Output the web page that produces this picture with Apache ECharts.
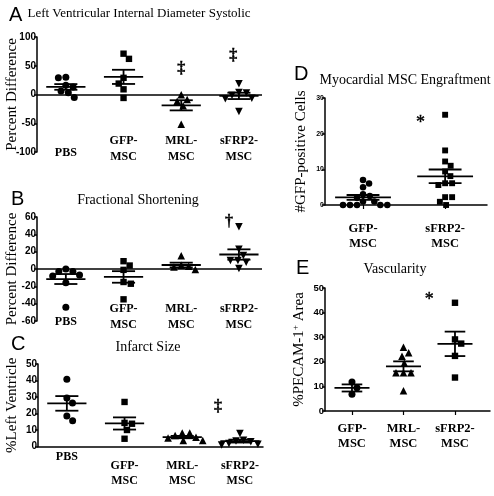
<!DOCTYPE html>
<html><head><meta charset="utf-8">
<script src="https://cdn.jsdelivr.net/npm/echarts@6/dist/echarts.min.js"></script>
<style>html,body{margin:0;padding:0;background:#fff}#c{width:494px;height:496px}</style>
</head><body><div id="c"></div>
<script>
// ---------- data ----------
const catsABC = ['PBS', 'GFP-\nMSC', 'MRL-\nMSC', 'sFRP2-\nMSC'];
const catsD = ['GFP-\nMSC', 'sFRP2-\nMSC'];
const catsE = ['GFP-\nMSC', 'MRL-\nMSC', 'sFRP2-\nMSC'];

const lvidsPBS = [30, 29, 16, 13, 6, 3, -5];
const lvidsGFP = [71, 62, 29, 19, 9, -6];
const lvidsMRL = [-1, -9, -12, -20, -52];
const lvidsSFRP2 = [19, 4, 3, -1, -6, -7, -29];

const fsPBS = [0, -3, -3, -7, -8, -16, -44];
const fsGFP = [9, 4, -1, -15, -17, -35];
const fsMRL = [15, 4, 3, 2, -1];
const fsSFRP2 = [49, 23, 16, 10, 10, 8, 1];

const infPBS = [40.7, 29.4, 26.4, 18.5, 15.6];
const infGFP = [27, 14.3, 13.8, 10, 4.7];
const infMRL = [8, 8, 6.5, 5.5, 5, 3.5, 3.5];
const infSFRP2 = [8, 4, 3.5, 3, 2, 1.5, 1];

const engGFP = [7, 6, 5, 3, 2.5, 2, 1, 1, 0, 0, 0, 0, 0];
const engSFRP2 = [25.3, 15.3, 12.2, 11, 9.4, 8.1, 6.1, 6.1, 5.6, 2.2, 2.2, 0.9, 0];

const vasGFP = [11.8, 9.5, 6.8];
const vasMRL = [25.8, 23.6, 22.2, 19.3, 15.4, 15.4, 15.4, 8.1];
const vasSFRP2 = [44, 29.1, 27.4, 22.4, 13.6];

const yTicksA = [-100, -50, 0, 50, 100];
const yTicksB = [-60, -40, -20, 0, 20, 40, 60];
const yTicksC = [0, 10, 20, 30, 40, 50];
const yTicksD = [0, 10, 20, 30];
const yTicksE = [0, 10, 20, 30, 40, 50];

// significance marks: [category position, value, symbol]
const marksA = [[3, 45, '‡'], [3.9, 68, '‡']];
const marksB = [[3.83, 54, '†']];
const marksC = [[3.62, 24, '‡']];
const marksD = [[1.7, 23, '*']];
const marksE = [[2.5, 45, '*']];

// ---------- helpers ----------
const SERIF = 'Liberation Serif', SANS = 'Liberation Sans';
function stats(v) {
  const n = v.length, m = v.reduce((a, b) => a + b, 0) / n;
  const sd = Math.sqrt(v.reduce((a, b) => a + (b - m) * (b - m), 0) / (n - 1));
  return { m, sem: sd / Math.sqrt(n) };
}
function swarm(ys, cx, d) {
  const order = ys.map((y, i) => i).sort((a, b) => ys[a] - ys[b]);
  const placed = [], xs = new Array(ys.length);
  order.forEach(i => {
    const y = ys[i], ints = [];
    placed.forEach(p => {
      const dy = Math.abs(p.y - y);
      if (dy < d) { const w = Math.sqrt(d * d - dy * dy); ints.push([p.x - w, p.x + w]); }
    });
    const cands = [cx];
    ints.forEach(t => cands.push(t[0], t[1]));
    cands.sort((a, b) => Math.abs(a - cx) - Math.abs(b - cx) || b - a);
    let x = cx;
    for (const c of cands) {
      if (ints.every(t => c <= t[0] + 1e-6 || c >= t[1] - 1e-6)) { x = c; break; }
    }
    xs[i] = x; placed.push({ x, y });
  });
  return xs;
}
function mark(shape, x, y, s) {
  const h = s / 2, st = { fill: '#000' };
  if (shape === 'circle') return { type: 'circle', shape: { cx: x, cy: y, r: h }, style: st };
  if (shape === 'square') return { type: 'rect', shape: { x: x - h + 0.3, y: y - h + 0.3, width: s - 0.6, height: s - 0.6 }, style: st };
  if (shape === 'triangle') return { type: 'polygon', shape: { points: [[x, y - h - 0.5], [x - h - 0.3, y + h], [x + h + 0.3, y + h]] }, style: st };
  return { type: 'polygon', shape: { points: [[x - h - 0.3, y - h], [x + h + 0.3, y - h], [x, y + h + 0.5]] }, style: st };
}
function groupRenderer(groups, shapes, size) {
  return function (params, api) {
    const gi = params.dataIndex, vals = groups[gi], xv = api.value(0);
    const unit = api.size([1, 0])[0];
    const cx = api.coord([xv, 0])[0];
    const ys = vals.map(v => api.coord([xv, v])[1]);
    const xs = swarm(ys, cx, size + 0.5);
    const ch = [];
    vals.forEach((v, i) => ch.push(mark(shapes[gi], xs[i], ys[i], size)));
    const s = stats(vals);
    const ym = api.coord([xv, s.m])[1], yt = api.coord([xv, s.m + s.sem])[1], yb = api.coord([xv, s.m - s.sem])[1];
    const mw = unit * 0.34, cw = unit * 0.2;
    const ls = { stroke: '#000', lineWidth: 1.8 };
    ch.push({ type: 'line', shape: { x1: cx - mw, y1: ym, x2: cx + mw, y2: ym }, style: ls });
    ch.push({ type: 'line', shape: { x1: cx - cw, y1: yt, x2: cx + cw, y2: yt }, style: ls });
    ch.push({ type: 'line', shape: { x1: cx - cw, y1: yb, x2: cx + cw, y2: yb }, style: ls });
    ch.push({ type: 'line', shape: { x1: cx, y1: yt, x2: cx, y2: yb }, style: ls });
    return { type: 'group', children: ch };
  };
}
function markRenderer(list, font) {
  return function (params, api) {
    const p = api.coord([api.value(0), api.value(1)]);
    return { type: 'text', x: p[0], y: p[1], style: { text: list[params.dataIndex][2], font: font, fill: '#000', stroke: '#000', lineWidth: 0.4, align: 'center', verticalAlign: 'middle' } };
  };
}

const panels = [
  { groups: [lvidsPBS, lvidsGFP, lvidsMRL, lvidsSFRP2], shapes: ['circle', 'square', 'triangle', 'invtriangle'], cats: catsABC, ticks: yTicksA, marks: marksA, markFont: 'bold 16px ' + SERIF,
    grid: { left: 37, top: 37, width: 225, height: 115 }, xmin: 0.5, xmax: 4.4, xLine: false, zero: true, xTick: false, size: 7,
    name: 'Percent Difference', nameGap: 17, tickFont: 10, labMargin: -3, labVA: 'middle', labSize: 12, singlePad: [8, 0, 0, 0] },
  { groups: [fsPBS, fsGFP, fsMRL, fsSFRP2], shapes: ['circle', 'square', 'triangle', 'invtriangle'], cats: catsABC, ticks: yTicksB, marks: marksB, markFont: 'bold 16px ' + SERIF,
    grid: { left: 37, top: 217, width: 225, height: 104 }, xmin: 0.5, xmax: 4.4, xLine: false, zero: true, xTick: false, size: 7,
    name: 'Percent Difference', nameGap: 17, tickFont: 10, labMargin: -4, labVA: 'middle', labSize: 12, singlePad: [10, 0, 0, 0] },
  { groups: [infPBS, infGFP, infMRL, infSFRP2], shapes: ['circle', 'square', 'triangle', 'invtriangle'], cats: catsABC, ticks: yTicksC, marks: marksC, markFont: 'bold 16px ' + SERIF,
    grid: { left: 38, top: 364, width: 225, height: 89 }, xmin: 0.5, xmax: 4.4, xLine: true, zero: false, xTick: false, size: 7,
    name: '%Left Ventricle', nameGap: 18, tickFont: 10, labMargin: 27, labVA: 'middle', labSize: 12, singlePad: [0, 0, 33, 0] },
  { groups: [engGFP, engSFRP2], shapes: ['circle', 'square'], cats: catsD, ticks: yTicksD, marks: marksD, markFont: '18px ' + SERIF,
    grid: { left: 325, top: 98, width: 162, height: 107 }, xmin: 0.537, xmax: 2.51, xLine: true, zero: false, xTick: true, size: 6.5,
    name: '#GFP-positive Cells', nameGap: 16, tickFont: 7, labMargin: 16, labVA: 'top', labSize: 12.5, singlePad: [0, 0, 0, 0] },
  { groups: [vasGFP, vasMRL, vasSFRP2], shapes: ['circle', 'triangle', 'square'], cats: catsE, ticks: yTicksE, marks: marksE, markFont: '18px ' + SERIF,
    grid: { left: 325, top: 288, width: 165, height: 123 }, xmin: 0.476, xmax: 3.68, xLine: true, zero: false, xTick: true, size: 7,
    name: '%PECAM-1{sup|+} Area', nameGap: 17, tickFont: 9.5, labMargin: 10, labVA: 'top', labSize: 12.5, singlePad: [0, 0, 0, 0] }
];

const option = { animation: false, backgroundColor: '#fff', grid: [], xAxis: [], yAxis: [], series: [], graphic: [] };
panels.forEach((p, i) => {
  option.grid.push(Object.assign({ containLabel: false }, p.grid));
  const custom = p.cats.map((c, k) => k + 1);
  const labFont = { fontFamily: SERIF, fontWeight: 'bold', fontSize: p.labSize, color: '#000', lineHeight: 15.5 };
  option.xAxis.push({
    gridIndex: i, type: 'value', min: p.xmin, max: p.xmax,
    axisLine: { show: p.xLine, onZero: false, lineStyle: { color: '#000', width: 1.5 } },
    axisTick: { show: p.xTick, customValues: custom, length: 4, lineStyle: { color: '#000', width: 1.2 } },
    splitLine: { show: false },
    axisLabel: Object.assign({
      customValues: custom, margin: p.labMargin, verticalAlign: p.labVA,
      formatter: v => {
        const s = p.cats[Math.round(v) - 1] || '';
        return s.indexOf('\n') >= 0 ? s : '{one|' + s + '}';
      },
      rich: { one: Object.assign({ padding: p.singlePad }, labFont) }
    }, labFont)
  });
  const t = p.ticks;
  option.yAxis.push({
    gridIndex: i, type: 'value', min: t[0], max: t[t.length - 1], interval: t[1] - t[0],
    axisLine: { show: true, lineStyle: { color: '#000', width: 1.5 } },
    axisTick: { show: true, length: 3, lineStyle: { color: '#000', width: 1.5 } },
    splitLine: { show: false },
    axisLabel: { fontFamily: SANS, fontWeight: 'bold', fontSize: p.tickFont, color: '#000', margin: 1 },
    name: p.name, nameLocation: 'middle', nameGap: p.nameGap, nameMoveOverlap: false,
    nameTextStyle: { fontFamily: SERIF, fontSize: 15, color: '#000', rich: { sup: { fontFamily: SERIF, fontSize: 9, color: '#000', verticalAlign: 'top', padding: [0, 0, 8, 0] } } }
  });
  const s = {
    type: 'custom', xAxisIndex: i, yAxisIndex: i, coordinateSystem: 'cartesian2d',
    data: p.groups.map((g, k) => [k + 1, 0]), encode: { x: 0, y: 1 }, clip: false,
    renderItem: groupRenderer(p.groups, p.shapes, p.size), silent: true
  };
  if (p.zero) s.markLine = { silent: true, symbol: 'none', label: { show: false }, lineStyle: { color: '#000', width: 1.5, type: 'solid' }, data: [{ yAxis: 0 }] };
  option.series.push(s);
  option.series.push({
    type: 'custom', xAxisIndex: i, yAxisIndex: i, coordinateSystem: 'cartesian2d',
    data: p.marks.map(m => [m[0], m[1]]), encode: { x: 0, y: 1 }, clip: false, silent: true,
    renderItem: markRenderer(p.marks, p.markFont)
  });
});

// titles and panel letters
const texts = [
  ['A', 9, 15, '20px ' + SANS, 'left'], ['B', 11, 199, '20px ' + SANS, 'left'], ['C', 11, 344, '20px ' + SANS, 'left'],
  ['D', 294, 74, '20px ' + SANS, 'left'], ['E', 296, 268, '20px ' + SANS, 'left'],
  ['Left Ventricular Internal Diameter Systolic', 139, 14, '13px ' + SERIF, 'center'],
  ['Fractional Shortening', 138, 200, '14px ' + SERIF, 'center'],
  ['Infarct Size', 148, 347, '14px ' + SERIF, 'center'],
  ['Myocardial MSC Engraftment', 405, 80, '14px ' + SERIF, 'center'],
  ['Vascularity', 395, 269, '14px ' + SERIF, 'center']
];
texts.forEach(t => option.graphic.push({ type: 'text', x: t[1], y: t[2], style: { text: t[0], font: t[3], fill: '#000', align: t[4], verticalAlign: 'middle' } }));

const chart = echarts.init(document.getElementById('c'));
chart.setOption(option);
</script></body></html>
